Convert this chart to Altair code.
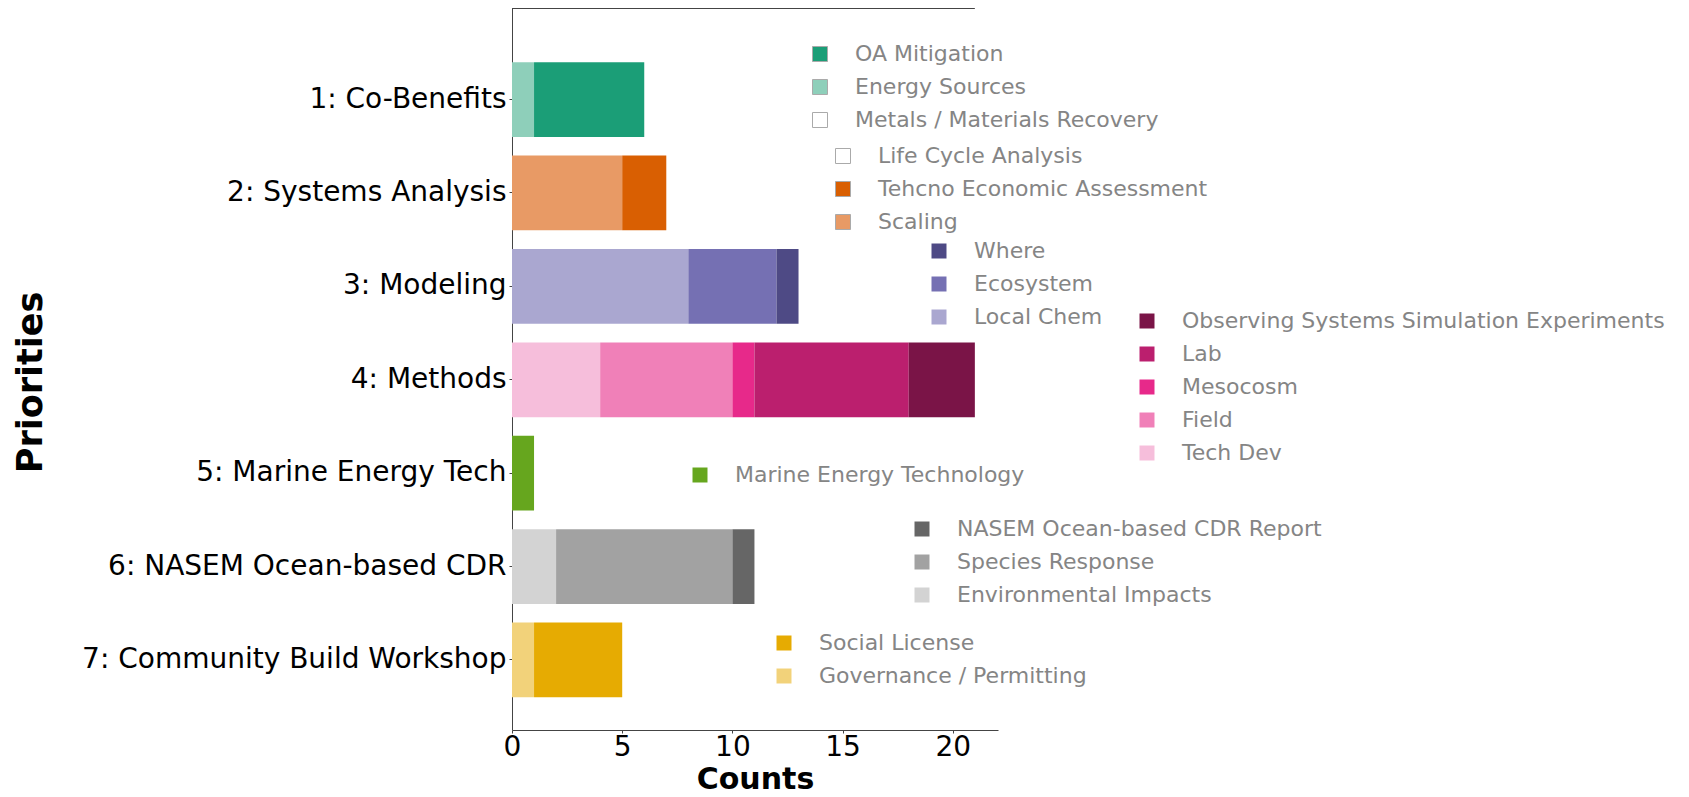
import altair as alt
import pandas as pd

priorities = ["1: Co-Benefits", "2: Systems Analysis", "3: Modeling", "4: Methods",
              "5: Marine Energy Tech", "6: NASEM Ocean-based CDR", "7: Community Build Workshop"]

# sub-categories per priority, in stacking order (left -> right)
g1_subs = ["Metals / Materials Recovery", "Energy Sources", "OA Mitigation"]
g1_counts = [0, 1, 5]
g1_colors = ["#ffffff", "#8ecfba", "#1b9e77"]

g2_subs = ["Scaling", "Tehcno Economic Assessment", "Life Cycle Analysis"]
g2_counts = [5, 2, 0]
g2_colors = ["#e89a65", "#d95f02", "#ffffff"]

g3_subs = ["Local Chem", "Ecosystem", "Where"]
g3_counts = [8, 4, 1]
g3_colors = ["#aaa7d0", "#7570b3", "#4e4a85"]

g4_subs = ["Tech Dev", "Field", "Mesocosm", "Lab", "Observing Systems Simulation Experiments"]
g4_counts = [4, 6, 1, 7, 3]
g4_colors = ["#f6bedb", "#f080b8", "#e7298a", "#bb1f6e", "#7a1447"]

g5_subs = ["Marine Energy Technology"]
g5_counts = [1]
g5_colors = ["#66a61e"]

g6_subs = ["Environmental Impacts", "Species Response", "NASEM Ocean-based CDR Report"]
g6_counts = [2, 8, 1]
g6_colors = ["#d3d3d3", "#a2a2a2", "#666666"]

g7_subs = ["Governance / Permitting", "Social License"]
g7_counts = [1, 4]
g7_colors = ["#f2d27a", "#e6ab02"]

groups = [
    (g1_subs, g1_counts, g1_colors, 297, 35, True),
    (g2_subs, g2_counts, g2_colors, 320, 137, True),
    (g3_subs, g3_counts, g3_colors, 416, 232, False),
    (g4_subs, g4_counts, g4_colors, 624, 302, False),
    (g5_subs, g5_counts, g5_colors, 177, 456, False),
    (g6_subs, g6_counts, g6_colors, 399, 510, False),
    (g7_subs, g7_counts, g7_colors, 261, 624, False),
]

x_scale = alt.Scale(domain=[0, 22.05], nice=False, zero=True)
y_scale = alt.Scale(domain=priorities, paddingInner=0.2, paddingOuter=0.465, align=0.624)

x_axis = alt.Axis(values=[0, 5, 10, 15, 20], title="Counts", grid=False, labelFlush=False,
                  labelFontSize=28, labelFont="DejaVu Sans", labelColor="black",
                  titleFontSize=30, titleFont="DejaVu Sans", titleFontWeight="bold",
                  titleColor="black", titleBaseline="alphabetic", titleY=58,
                  tickSize=3, labelPadding=0, domainColor="#444444", tickColor="#444444")
y_axis = alt.Axis(title="Priorities", grid=False, labelLimit=700,
                  labelFontSize=28, labelFont="DejaVu Sans", labelColor="black",
                  titleFontSize=35, titleFont="DejaVu Sans", titleFontWeight="bold",
                  titleColor="black", titleAngle=270, titleAlign="center",
                  titleBaseline="middle", titleX=-482, titleY=374,
                  tickSize=3, labelPadding=3, domainColor="#444444", tickColor="#444444")

layers = []
for i, (subs, counts, colors, lx, ly, outline) in enumerate(groups):
    n = len(subs)
    df = pd.DataFrame({
        "priority": [priorities[i]] * n,
        "sub": subs,
        "count": counts,
        "order": list(range(n)),
    })
    df = df[df["count"] > 0]
    legend_domain = subs[::-1]
    legend_range = colors[::-1]
    legend = alt.Legend(title=None, orient="none", legendX=lx, legendY=ly, padding=0,
                        labelFontSize=22, labelFont="DejaVu Sans", labelColor="#858585",
                        symbolType="square", symbolSize=225, rowPadding=11, labelOffset=24,
                        symbolStrokeColor="#aaaaaa", symbolStrokeWidth=1 if outline else 0,
                        labelLimit=800)
    layer = alt.Chart(df).mark_bar().encode(
        x=alt.X("count:Q", stack="zero", scale=x_scale, axis=x_axis, title="Counts"),
        y=alt.Y("priority:N", scale=y_scale, sort=priorities, axis=y_axis, title="Priorities"),
        color=alt.Color("sub:N", scale=alt.Scale(domain=legend_domain, range=legend_range),
                        legend=legend),
        order=alt.Order("order:Q"),
    )
    layers.append(layer)

top_df = pd.DataFrame({"a": [0], "b": [21]})
top_spine = alt.Chart(top_df).mark_rule(color="#444444", strokeWidth=1).encode(
    x=alt.X("a:Q", scale=x_scale, axis=x_axis, title="Counts"), x2="b:Q", y=alt.value(0.5))

chart = alt.layer(*layers, top_spine).resolve_scale(
    color="independent").resolve_legend(color="independent").properties(
    width=486, height=722,
    background="white",
    autosize=alt.AutoSizeParams(type="none"),
    padding={"left": 504, "top": 0, "right": 680, "bottom": 64},
).configure_view(strokeWidth=0, stroke="transparent")

chart.save("out.html", embed_options={"renderer": "svg", "actions": False})
